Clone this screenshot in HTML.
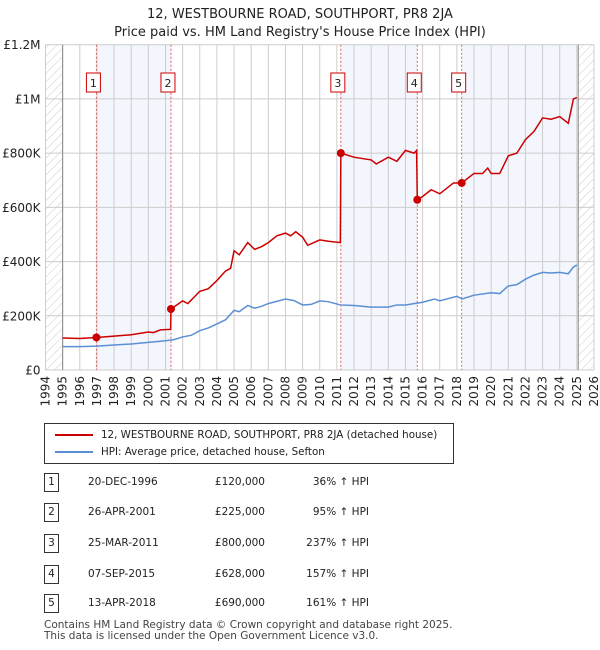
<!DOCTYPE html>
<html><head><meta charset="utf-8"><style>
body{margin:0;background:#fff;font-family:"DejaVu Sans","Liberation Sans",sans-serif;}
#wrap{position:relative;width:600px;height:650px;overflow:hidden}
.t{font-size:13px;fill:#222}
</style></head><body><div id="wrap">
<svg id="svg" width="600" height="650" style="font-family:'DejaVu Sans',sans-serif">
<defs><pattern id="hatch" width="6" height="6" patternUnits="userSpaceOnUse" patternTransform="rotate(45)"><line x1="0" y1="0" x2="0" y2="6" stroke="#ccc" stroke-width="1"/></pattern></defs>
<text x="300" y="18" text-anchor="middle" class="t">12, WESTBOURNE ROAD, SOUTHPORT, PR8 2JA</text>
<text x="300" y="36" text-anchor="middle" class="t">Price paid vs. HM Land Registry's House Price Index (HPI)</text>
<g id="plot"></g>
</svg>
<div style="position:absolute;left:44px;top:423px;width:408px;height:39px;border:1px solid #333;font-size:10.3px;color:#222">
<div style="position:absolute;left:10px;top:5px;white-space:nowrap"><span style="display:inline-block;width:38px;height:2px;background:#cc0000;vertical-align:middle;margin-right:8px"></span>12, WESTBOURNE ROAD, SOUTHPORT, PR8 2JA (detached house)</div>
<div style="position:absolute;left:10px;top:22px;white-space:nowrap"><span style="display:inline-block;width:38px;height:2px;background:#5b8fd4;vertical-align:middle;margin-right:8px"></span>HPI: Average price, detached house, Sefton</div>
</div>
<div id="tbl"></div>
<div style="position:absolute;left:44px;top:620px;font-size:10.5px;color:#444;line-height:11px;white-space:nowrap">Contains HM Land Registry data © Crown copyright and database right 2025.<br>This data is licensed under the Open Government Licence v3.0.</div>
</div>
<script>
const hpiYears=[1995,1996,1997,1998,1999,2000,2001,2001.5,2002,2002.5,2003,2003.5,2004,2004.5,2005,2005.3,2005.8,2006.2,2006.6,2007,2007.3,2008,2008.5,2009,2009.5,2010,2010.5,2011.2,2012,2013,2014,2014.5,2015,2016,2016.7,2017,2018,2018.3,2019,2020,2020.5,2021,2021.5,2022,2022.5,2023,2023.5,2024,2024.5,2024.8,2025];
const hpiValues=[86,86,88,92,96,102,108,112,122,128,145,155,170,185,220,215,238,228,235,245,250,262,256,240,242,255,252,240,238,232,232,240,240,250,262,255,272,262,276,285,282,310,315,335,350,360,358,360,355,380,387];
const ppYears=[1995,1996,1996.97,1998,1999,2000,2000.3,2000.7,2001.3,2001.32,2002,2002.3,2003,2003.5,2004,2004.5,2004.8,2005,2005.3,2005.8,2006.2,2006.6,2007,2007.5,2008,2008.3,2008.6,2009,2009.3,2010,2010.5,2011.2,2011.23,2012,2013,2013.3,2014,2014.5,2015,2015.5,2015.65,2015.69,2016,2016.5,2017,2017.8,2018.28,2019,2019.5,2019.8,2020,2020.5,2021,2021.5,2022,2022.5,2023,2023.5,2024,2024.5,2024.8,2025];
const ppValues=[118,116,120,125,130,140,138,148,150,225,255,245,290,300,330,365,375,440,425,470,445,455,470,495,505,495,510,490,460,480,475,470,800,785,775,760,785,770,810,800,810,628,640,665,650,690,690,725,725,745,725,725,790,800,850,880,930,925,935,910,1000,1005];
const saleIds=["1","2","3","4","5"];
const saleYears=[1996.97,2001.32,2011.23,2015.69,2018.28];
const saleDates=["20-DEC-1996","26-APR-2001","25-MAR-2011","07-SEP-2015","13-APR-2018"];
const salePrices=[120,225,800,628,690];
const salePct=["36%","95%","237%","157%","161%"];
const yTicks=[0,200,400,600,800,1000,1200];
const yTickLabels=["£0","£200K","£400K","£600K","£800K","£1M","£1.2M"];
const xTicks=[1994,1995,1996,1997,1998,1999,2000,2001,2002,2003,2004,2005,2006,2007,2008,2009,2010,2011,2012,2013,2014,2015,2016,2017,2018,2019,2020,2021,2022,2023,2024,2025,2026];

const X0=45.5,X1=594,Y0=370,Y1=44.7;
const xs=y=>X0+(y-1994)/(2026-1994)*(X1-X0);
const ys=v=>Y0-v/1200*(Y0-Y1);
const NS="http://www.w3.org/2000/svg";
const g=document.getElementById('plot');
function mk(t,a,p){const e=document.createElementNS(NS,t);for(const k in a)e.setAttribute(k,a[k]);(p||g).appendChild(e);return e;}
const bandA=[[saleYears[0],saleYears[1]],[saleYears[2],saleYears[3]],[saleYears[4],2025.08]];
bandA.forEach(b=>{const r=mk('rect',{x:xs(b[0]),y:Y1,width:xs(b[1])-xs(b[0]),height:Y0-Y1,fill:'#f3f6fd'});

});
[[1994,1995],[2025.08,2026]].forEach(b=>{const r=mk('rect',{x:xs(b[0]),y:Y1,width:xs(b[1])-xs(b[0]),height:Y0-Y1,fill:'url(#hatch)'});

});
xTicks.forEach(t=>{const l=mk('line',{x1:xs(t),x2:xs(t),y1:Y1,y2:Y0,stroke:'#ccc','stroke-width':1});


const tx=mk('text',{x:0,y:0,'font-size':12,fill:'#222','text-anchor':'end','dominant-baseline':'central',transform:`translate(${xs(t)},${Y0+6}) rotate(-90)`});tx.textContent=t;

});
yTicks.forEach((t,i)=>{const l=mk('line',{x1:X0,x2:X1,y1:ys(t),y2:ys(t),stroke:'#ccc','stroke-width':1});


const tx=mk('text',{x:X0-5,y:ys(t)+4.5,'font-size':12,fill:'#222','text-anchor':'end'});tx.textContent=yTickLabels[i];

});
[1995,2025.08].forEach(y=>{const l=mk('line',{x1:xs(y),x2:xs(y),y1:Y1,y2:Y0,stroke:'#888','stroke-width':1});

});
saleYears.forEach((y,i)=>{const l=mk('line',{x1:xs(y),x2:xs(y),y1:Y1,y2:Y0,stroke:'#e06060','stroke-width':1,'stroke-dasharray':'2,2'});


const r=mk('rect',{x:xs(y)-10,y:73,width:14,height:19,fill:'#fff',stroke:'#cc0000'});


const t=mk('text',{x:xs(y)-3,y:87,'font-size':11,fill:'#222','text-anchor':'middle'});t.textContent=saleIds[i];

});
const hp=mk('polyline',{points:hpiYears.map((y,i)=>xs(y)+','+ys(hpiValues[i])).join(' '),fill:'none',stroke:'#5b8fd4','stroke-width':1.5});


const pp=mk('polyline',{points:ppYears.map((y,i)=>xs(y)+','+ys(ppValues[i])).join(' '),fill:'none',stroke:'#cc0000','stroke-width':1.5});


saleYears.forEach((y,i)=>{const c=mk('circle',{cx:xs(y),cy:ys(salePrices[i]),r:4,fill:'#cc0000'});

});
const tb=document.getElementById('tbl');
const rowY=[483,513,544,575,604];
saleIds.forEach((id,i)=>{const row=document.createElement('div');


row.style.cssText=`position:absolute;left:0;top:${rowY[i]-10}px;width:600px;height:20px;font-size:10.5px;color:#222`;
row.innerHTML=`<span style="position:absolute;left:44px;top:0;width:13px;height:17px;border:1px solid #333;text-align:center;line-height:17px">${id}</span><span style="position:absolute;left:88px;top:3px">${saleDates[i]}</span><span style="position:absolute;right:335px;top:3px">£${salePrices[i]},000</span><span style="position:absolute;right:231px;top:3px">${salePct[i]} ↑ HPI</span>`;
tb.appendChild(row);});
</script>
</body></html>
